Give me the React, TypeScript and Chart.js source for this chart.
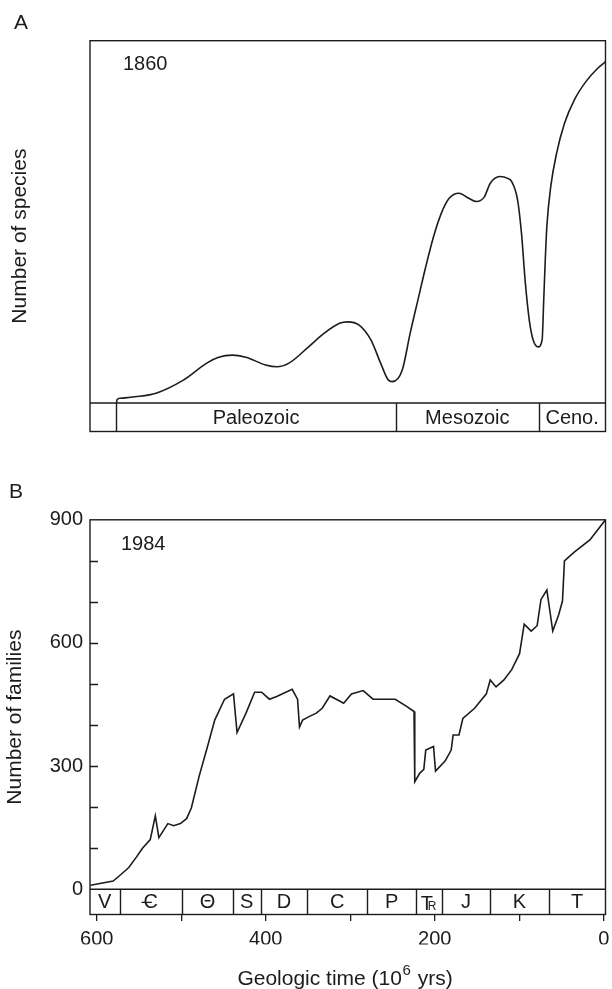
import React, { useEffect, useRef } from 'react';
import { Chart, registerables } from 'chart.js';

Chart.register(...registerables);

const FONT = '"Liberation Sans", Arial, Helvetica, sans-serif';
const INK = '#1c1c1c';

// Panel A (1860) — relative number of species vs. geologic time (Ma)
const speciesAges = [
  576.6, 576.0, 572, 555, 529.8, 497.6, 469.8, 455.8, 439.8, 423.5, 400.3, 386.7, 372.6,
  349.4, 331.2, 312.7, 303.4, 289.5, 275.6, 264.1, 254.9, 250.2, 238.5, 229.2, 220,
  210.7, 201.5, 192.2, 183, 171.4, 159.8, 150.6, 141.4, 134.5, 122.9, 113.7, 109, 102,
  97.4, 92.8, 88.2, 83.6, 77.6, 73.0, 71.1, 69.6, 67.4, 62.8, 55.9, 46.5, 35.0, 21.2, 7.2, -2,
];
const speciesValues = [
  0, 0.9, 1.3, 1.7, 2.7, 6.3, 11.0, 12.6, 13.2, 12.6, 10.5, 10.0, 11.0,
  15.5, 19.2, 22.0, 22.4, 21.5, 17.4, 11.0, 6.3, 5.9, 9.1, 19.2, 28.4,
  37.6, 45.9, 52.4, 56.5, 57.9, 56.5, 55.6, 56.9, 60.6, 62.5, 62.0, 61.1, 56.0,
  46.8, 33.0, 22.9, 17.4, 15.5, 17.4, 28.4, 37.6, 48.7, 59.7, 68.9, 77.2, 83.6, 88.7, 92.4, 94.2,
];

// Panel B (1984) — number of families vs. geologic time (Ma)
const familyAges = [
  607.4, 580.6, 571.4, 562.1, 552.9, 545.9, 536.7, 530.7, 526.5, 515.9, 508.9, 501.1,
  493.7, 488.1, 478.9, 469.6, 460.4, 448.8, 438.2, 434.0, 423.4, 413.2, 404.9, 395.7,
  386.4, 368.8, 362.4, 360.1, 356.4, 349.4, 340.2, 333.2, 324.0, 307.8, 298.6, 284.7,
  273.1, 246.8, 233.8, 224.6, 223.7, 217.7, 213.0, 210.7, 201.5, 199.1, 187.6, 180.6,
  178.3, 171.4, 166.8, 152.9, 139.0, 134.4, 127.5, 118.2, 109.0, 99.7, 94.2, 85.9,
  78.9, 74.3, 67.4, 60.4, 53.5, 48.9, 46.6, 35.0, 16.5, -2,
];
const familyCounts = [
  10, 20, 36, 53, 79, 100, 121, 179, 126, 160, 155, 160,
  172, 198, 275, 343, 412, 463, 476, 382, 429, 480, 480, 463,
  470, 487, 463, 395, 412, 420, 429, 441, 471, 453, 476, 484,
  463, 463, 446, 433, 262, 283, 292, 339, 348, 288, 313, 339,
  376, 376, 416, 441, 476, 510, 493, 510, 535, 574, 646, 629,
  642, 706, 729, 629, 668, 702, 800, 821, 851, 900,
];

// Era strip (panel A)
const eraEdges = [608, 577, 246, 77, -2];
const eraLabels = ['', 'Paleozoic', 'Mesozoic', 'Ceno.'];

// Period strip (panel B)
const periodEdges = [608, 573, 499, 439, 406, 351, 280, 222, 191, 135, 65, -2];
const periodLabels = ['V', 'CBAR', 'Θ', 'S', 'D', 'C', 'P', 'TR', 'J', 'K', 'T'];

// Axis ticks
const timeTicks = [0, 100, 200, 300, 400, 500, 600];
const timeLabels = [0, 200, 400, 600];
const familyTickLabels = [0, 300, 600, 900];
const familyMinorTicks = [100, 200, 300, 400, 500, 600, 700, 800];

const TIME_MIN = -2;
const TIME_MAX = 608;

function drawStrip(ctx: any, chart: any, edges: number[], labels: string[], fontSize: number) {
  const xs = chart.scales.x;
  const ys = chart.scales.y;
  const area = chart.chartArea;
  const y0 = ys.getPixelForValue(0);
  ctx.save();
  ctx.strokeStyle = INK;
  ctx.lineWidth = 1.4;
  ctx.beginPath();
  ctx.moveTo(area.left, y0);
  ctx.lineTo(area.right, y0);
  for (let i = 1; i < edges.length - 1; i++) {
    const px = Math.round(xs.getPixelForValue(edges[i])) + 0.5;
    ctx.moveTo(px, y0);
    ctx.lineTo(px, area.bottom);
  }
  ctx.stroke();
  ctx.fillStyle = INK;
  ctx.textBaseline = 'middle';
  ctx.textAlign = 'center';
  const cy = (y0 + area.bottom) / 2 + 1;
  for (let i = 0; i < labels.length; i++) {
    const lab = labels[i];
    if (!lab) continue;
    const cx = (xs.getPixelForValue(edges[i]) + xs.getPixelForValue(edges[i + 1])) / 2;
    ctx.font = `${fontSize}px ${FONT}`;
    if (lab === 'CBAR') {
      ctx.fillText('C', cx, cy);
      const w = ctx.measureText('C').width;
      ctx.beginPath();
      ctx.lineWidth = 1.3;
      ctx.moveTo(cx - w / 2 - 2, cy - 0.5);
      ctx.lineTo(cx + 1, cy - 0.5);
      ctx.stroke();
    } else if (lab === 'TR') {
      const base = cy + fontSize * 0.35;
      ctx.textBaseline = 'alphabetic';
      ctx.fillText('T', cx - 2.5, base);
      ctx.font = `${Math.round(fontSize * 0.58)}px ${FONT}`;
      ctx.textAlign = 'left';
      ctx.fillText('R', cx - 1.6, base);
      ctx.textAlign = 'center';
      ctx.textBaseline = 'middle';
    } else {
      ctx.fillText(lab, cx, cy);
    }
  }
  ctx.restore();
}

function drawBox(ctx: any, area: any) {
  ctx.save();
  ctx.strokeStyle = INK;
  ctx.lineWidth = 1.4;
  ctx.strokeRect(area.left, area.top, area.right - area.left, area.bottom - area.top);
  ctx.restore();
}

const panelAPlugin = {
  id: 'panelA',
  afterDraw(chart: any) {
    const ctx = chart.ctx;
    const area = chart.chartArea;
    drawStrip(ctx, chart, eraEdges, eraLabels, 20);
    drawBox(ctx, area);
    ctx.save();
    ctx.fillStyle = INK;
    ctx.textAlign = 'left';
    ctx.textBaseline = 'alphabetic';
    ctx.font = `21px ${FONT}`;
    ctx.fillText('A', area.left - 76, area.top - 12);
    ctx.font = `20px ${FONT}`;
    ctx.fillText('1860', area.left + 33, area.top + 29.5);
    ctx.restore();
  },
};

const panelBPlugin = {
  id: 'panelB',
  afterDraw(chart: any) {
    const ctx = chart.ctx;
    const area = chart.chartArea;
    const ys = chart.scales.y;
    drawStrip(ctx, chart, periodEdges, periodLabels, 20);
    drawBox(ctx, area);
    ctx.save();
    ctx.strokeStyle = INK;
    ctx.lineWidth = 1.3;
    ctx.beginPath();
    for (const v of familyMinorTicks) {
      const y = Math.round(ys.getPixelForValue(v)) + 0.5;
      ctx.moveTo(area.left, y);
      ctx.lineTo(area.left + 8, y);
    }
    ctx.stroke();
    ctx.fillStyle = INK;
    ctx.textAlign = 'left';
    ctx.textBaseline = 'alphabetic';
    ctx.font = `21px ${FONT}`;
    ctx.fillText('B', area.left - 81, area.top - 22);
    ctx.font = `20px ${FONT}`;
    ctx.fillText('1984', area.left + 31, area.top + 30);
    // x-axis title with superscript
    const main1 = 'Geologic time (10';
    const sup = '6';
    const main2 = ' yrs)';
    ctx.font = `21px ${FONT}`;
    const w1 = ctx.measureText(main1).width;
    const w3 = ctx.measureText(main2).width;
    ctx.font = `15px ${FONT}`;
    const w2 = ctx.measureText(sup).width + 1;
    const total = w1 + w2 + w3;
    const cx = (area.left + area.right) / 2 - 3;
    const base = area.bottom + 70.5;
    let x = cx - total / 2;
    ctx.font = `21px ${FONT}`;
    ctx.fillText(main1, x, base);
    x += w1 + 0.5;
    ctx.font = `15px ${FONT}`;
    ctx.fillText(sup, x, base - 10);
    x += w2;
    ctx.font = `21px ${FONT}`;
    ctx.fillText(main2, x, base);
    ctx.restore();
  },
};

export default function App() {
  const refA = useRef<HTMLCanvasElement | null>(null);
  const refB = useRef<HTMLCanvasElement | null>(null);

  useEffect(() => {
    const chartA = new Chart(refA.current as any, {
      type: 'line',
      data: {
        datasets: [
          {
            data: speciesAges.map((a, i) => ({ x: a, y: speciesValues[i] })),
            borderColor: INK,
            borderWidth: 1.6,
            pointRadius: 0,
            cubicInterpolationMode: 'monotone',
            fill: false,
          },
        ],
      },
      options: {
        animation: false,
        responsive: false,
        devicePixelRatio: 1,
        layout: { padding: { top: 40.7, bottom: 13.5, right: 6.5, left: 0 } },
        plugins: { legend: { display: false }, tooltip: { enabled: false } },
        scales: {
          x: { type: 'linear', min: TIME_MIN, max: TIME_MAX, reverse: true, display: false },
          y: {
            type: 'linear',
            min: -7.87,
            max: 100,
            grid: { display: false, drawTicks: false },
            border: { display: false },
            ticks: { display: false },
            title: {
              display: true,
              text: 'Number of species',
              color: INK,
              font: { family: FONT, size: 21 },
              padding: { top: 7.5, bottom: 0 },
            },
            afterFit: (s: any) => {
              s.width = 90;
            },
          },
        },
      } as any,
      plugins: [panelAPlugin],
    });

    const chartB = new Chart(refB.current as any, {
      type: 'line',
      data: {
        datasets: [
          {
            data: familyAges.map((a, i) => ({ x: a, y: familyCounts[i] })),
            borderColor: INK,
            borderWidth: 1.6,
            pointRadius: 0,
            tension: 0,
            fill: false,
          },
        ],
      },
      options: {
        animation: false,
        responsive: false,
        devicePixelRatio: 1,
        layout: { padding: { top: 74.8, bottom: 44.5, right: 6.5, left: 0 } },
        plugins: { legend: { display: false }, tooltip: { enabled: false } },
        scales: {
          x: {
            type: 'linear',
            min: TIME_MIN,
            max: TIME_MAX,
            reverse: true,
            afterBuildTicks: (s: any) => {
              s.ticks = timeTicks.map((v) => ({ value: v }));
            },
            ticks: {
              autoSkip: false,
              maxRotation: 0,
              padding: 6,
              color: INK,
              font: { family: FONT, size: 20 },
              callback: (v: any) => (timeLabels.includes(Number(v)) ? String(v) : ''),
            },
            grid: { drawOnChartArea: false, drawTicks: true, tickLength: 6.5, color: INK, lineWidth: 1.3 },
            border: { display: false },
            afterFit: (s: any) => {
              s.height = 30;
            },
          },
          y: {
            type: 'linear',
            min: -61.4,
            max: 900,
            afterBuildTicks: (s: any) => {
              s.ticks = familyTickLabels.map((v) => ({ value: v }));
            },
            ticks: { autoSkip: false, padding: 7, color: INK, font: { family: FONT, size: 20 } },
            grid: { display: false, drawTicks: false },
            border: { display: false },
            title: {
              display: true,
              text: 'Number of families',
              color: INK,
              font: { family: FONT, size: 21 },
              padding: { top: 2.5, bottom: 0 },
            },
            afterFit: (s: any) => {
              s.width = 90;
            },
          },
        },
      } as any,
      plugins: [panelBPlugin],
    });

    return () => {
      chartA.destroy();
      chartB.destroy();
    };
  }, []);

  return (
    <div style={{ position: 'absolute', left: 0, top: 0, width: 612, height: 989, background: '#fff' }}>
      <canvas
        ref={refA}
        width={612}
        height={445}
        style={{ position: 'absolute', left: 0, top: 0, width: 612, height: 445 }}
      />
      <canvas
        ref={refB}
        width={612}
        height={544}
        style={{ position: 'absolute', left: 0, top: 445, width: 612, height: 544 }}
      />
    </div>
  );
}
